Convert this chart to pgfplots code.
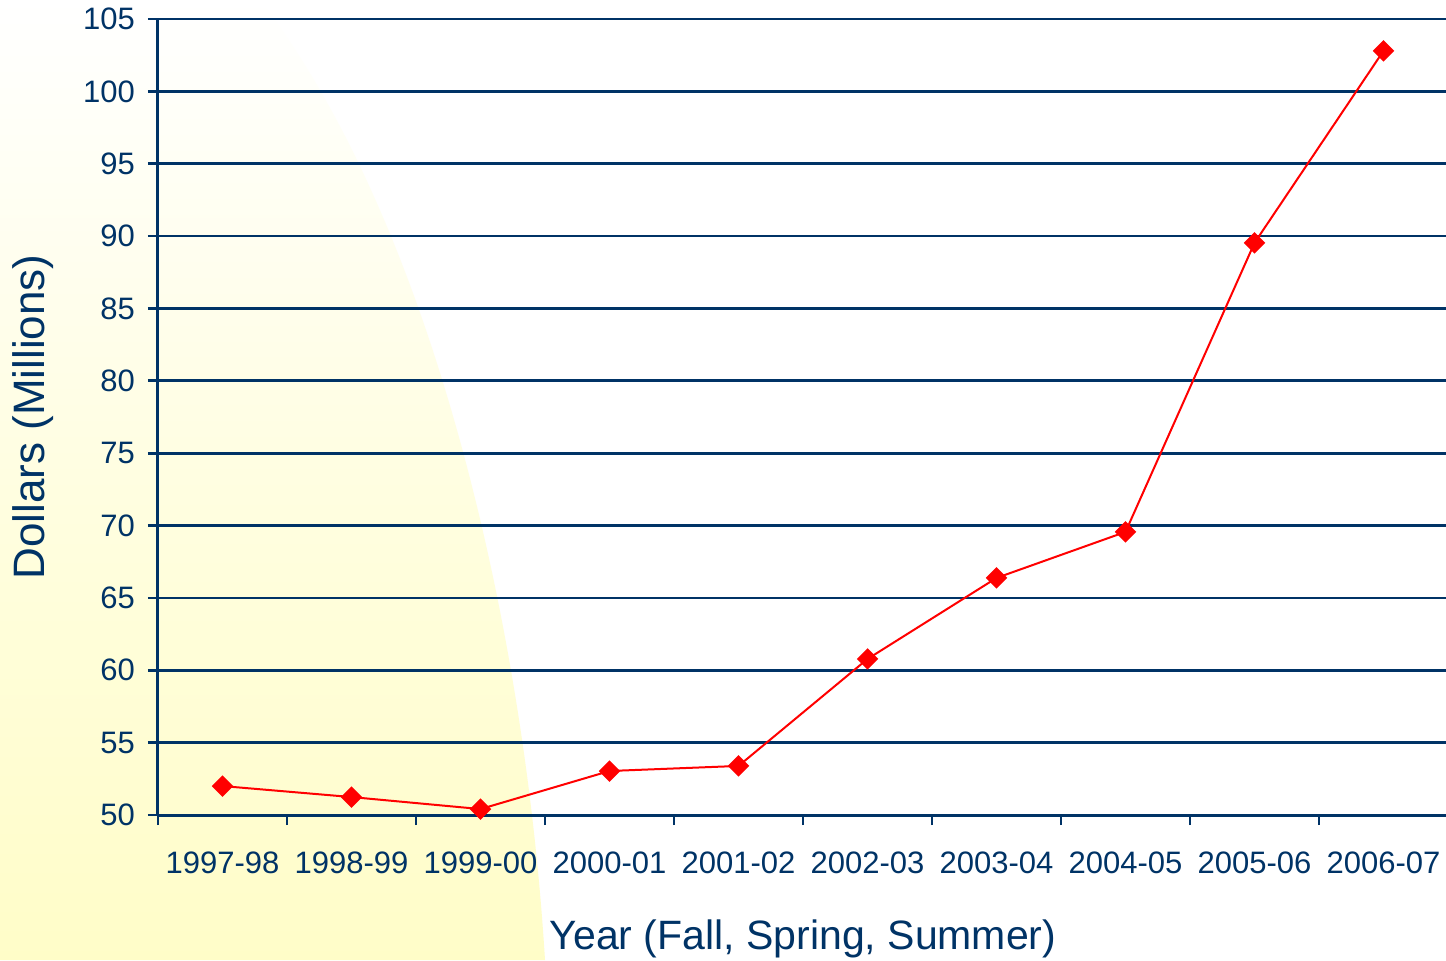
\documentclass[border=0pt]{standalone}
\usepackage{fontspec}
\setmainfont{Liberation Sans}
\usepackage{pgfplots}
\pgfplotsset{compat=1.18}
\usetikzlibrary{calc}
\definecolor{navy}{RGB}{0,51,102}
\definecolor{paleyel}{RGB}{255,253,200}
\pgfdeclarelayer{background}
\pgfsetlayers{background,main}

\begin{document}
\begin{tikzpicture}[x=1pt,y=1pt]
\begin{axis}[
  width=645pt, height=398pt, scale only axis,
  xmin=-0.5, xmax=9.5,
  ymin=50, ymax=105,
  ytick={50,55,...,105},
  xtick={0,...,9},
  xticklabels={1997-98,1998-99,1999-00,2000-01,2001-02,2002-03,2003-04,2004-05,2005-06,2006-07},
  minor xtick={-0.5,0.5,...,8.5},
  axis x line*=bottom, axis y line*=left,
  axis line style={navy, line width=1.5pt, -},
  ymajorgrids,
  grid style={navy, line width=1.4pt},
  tick align=outside,
  major tick length=5pt,
  minor tick length=5pt,
  major x tick style={draw=none},
  ytick style={navy, line width=1.4pt},
  minor x tick style={navy, line width=1.4pt},
  ticklabel style={font=\fontsize{15.5}{18}\selectfont, text=navy},
  xticklabel style={yshift=-10pt},
  yticklabel style={xshift=-3pt},
  /pgf/number format/assume math mode=true,
  xlabel={Year (Fall, Spring, Summer)},
  ylabel={Dollars (Millions)},
  label style={text=navy},
  xlabel style={font=\fontsize{20.5}{24}\selectfont, yshift=-16pt},
  ylabel style={font=\fontsize{22}{26}\selectfont, yshift=8pt},
  clip=false,
]
  \coordinate (O) at (rel axis cs:0,0);
  \addplot[red, line width=1pt, mark=square*, mark size=3.3pt,
           mark options={rotate=45, fill=red, draw=red}]
    coordinates {
      (0,52.0) (1,51.24) (2,50.41) (3,53.04) (4,53.39)
      (5,60.78) (6,66.38) (7,69.56) (8,89.53) (9,102.8)
    };
\end{axis}
\pgfresetboundingbox
\coordinate (P) at ($(O)+(-79,-72.5)$);
\useasboundingbox (P) rectangle ++(723,480);
\begin{pgfonlayer}{background}
  \fill[white] (P) rectangle ++(723,480);
  % yellow backdrop on the left
  \shade[top color=white, bottom color=paleyel, middle color=paleyel!55]
    (P) -- ++(272.5,0) .. controls ($(P)+(262,170)$) and ($(P)+(215,370)$) .. ($(P)+(130,480)$)
    -- ($(P)+(0,480)$) -- cycle;
\end{pgfonlayer}
\end{tikzpicture}
\end{document}
